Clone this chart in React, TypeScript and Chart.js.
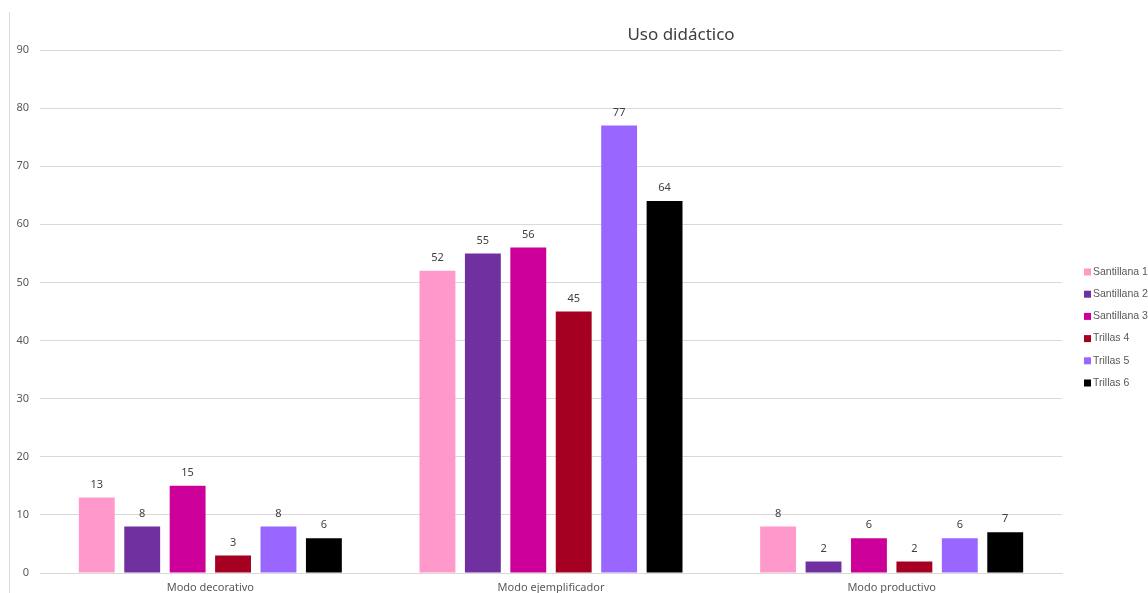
import React, { useEffect, useRef } from "react";
import { Chart, registerables } from "chart.js";

Chart.register(...registerables);

const categories = ["Modo decorativo", "Modo ejemplificador", "Modo productivo"];
const seriesNames = ["Santillana 1", "Santillana 2", "Santillana 3", "Trillas 4", "Trillas 5", "Trillas 6"];
const santillana1 = [13, 52, 8];
const santillana2 = [8, 55, 2];
const santillana3 = [15, 56, 6];
const trillas4 = [3, 45, 2];
const trillas5 = [8, 77, 6];
const trillas6 = [6, 64, 7];
const seriesColors = ["#FF99CC", "#7030A0", "#CC0099", "#A50021", "#9966FF", "#000000"];
const yTicks = [0, 10, 20, 30, 40, 50, 60, 70, 80, 90];
const titleText = "Uso didáctico";

const FONT = "'Noto Sans', 'Liberation Sans', sans-serif";
const NARROW = "'Liberation Sans', 'Noto Sans', sans-serif";

const extrasPlugin = {
  id: "extras",
  afterDatasetsDraw(chart: any) {
    const ctx = chart.ctx;
    ctx.save();
    // data labels
    ctx.font = `11px ${FONT}`;
    ctx.fillStyle = "#404040";
    ctx.textAlign = "center";
    ctx.textBaseline = "middle";
    chart.data.datasets.forEach((ds: any, i: number) => {
      const meta = chart.getDatasetMeta(i);
      meta.data.forEach((bar: any, j: number) => {
        ctx.fillText(String(ds.data[j]), bar.x, bar.y - 13);
      });
    });
    // title
    ctx.font = `17px ${FONT}`;
    ctx.fillStyle = "#404040";
    ctx.fillText(titleText, 681, 35);
    // left frame line
    ctx.strokeStyle = "#d9d9d9";
    ctx.lineWidth = 1;
    ctx.beginPath();
    ctx.moveTo(9.5, 12);
    ctx.lineTo(9.5, 593);
    ctx.stroke();
    // legend
    ctx.font = `10.5px ${NARROW}`;
    ctx.textAlign = "left";
    chart.data.datasets.forEach((ds: any, i: number) => {
      const y = 272 + i * 22.2;
      ctx.fillStyle = ds.backgroundColor;
      ctx.fillRect(1084, y - 3.5, 7, 7);
      ctx.fillStyle = "#595959";
      ctx.fillText(ds.label, 1093, y);
    });
    ctx.restore();
  },
};

export default function App() {
  const ref = useRef<HTMLCanvasElement>(null);
  useEffect(() => {
    if (!ref.current) return;
    const values = [santillana1, santillana2, santillana3, trillas4, trillas5, trillas6];
    const chart = new Chart(ref.current, {
      type: "bar",
      data: {
        labels: categories,
        datasets: seriesNames.map((name, i) => ({
          label: name,
          data: values[i],
          backgroundColor: seriesColors[i],
          borderWidth: 0,
          categoryPercentage: 0.8,
          barPercentage: 0.79,
        })),
      },
      options: {
        animation: false,
        responsive: false,
        maintainAspectRatio: false,
        layout: { padding: { left: 0, top: 50, right: 86, bottom: 0 } },
        plugins: {
          legend: { display: false },
          title: { display: false },
          tooltip: { enabled: false },
        },
        scales: {
          x: {
            grid: { display: false },
            border: { display: true, color: "#d9d9d9" },
            ticks: { color: "#595959", font: { size: 11, family: FONT }, padding: 0 },
            afterFit: (s: any) => { s.height = 20; },
          },
          y: {
            min: 0,
            max: 90,
            afterBuildTicks: (s: any) => { s.ticks = yTicks.map((v) => ({ value: v })); },
            grid: { color: "#d9d9d9", drawTicks: false },
            border: { display: false },
            ticks: { color: "#595959", font: { size: 11, family: FONT }, padding: 11 },
            afterFit: (s: any) => { s.width = 40; },
          },
        },
      },
      plugins: [extrasPlugin],
    });
    return () => chart.destroy();
  }, []);
  return (
    <div style={{ position: "fixed", left: 0, top: 0, width: 1148, height: 593, background: "#fff" }}>
      <canvas ref={ref} width={1148} height={593} style={{ width: 1148, height: 593 }} />
    </div>
  );
}
